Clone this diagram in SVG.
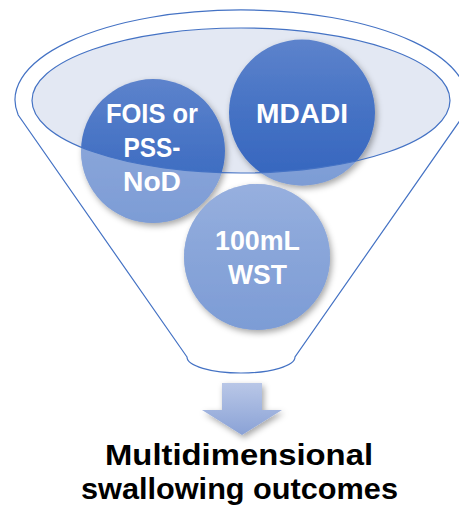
<svg xmlns="http://www.w3.org/2000/svg" width="459" height="512" viewBox="0 0 459 512">
  <defs>
    <style>
      .rim { fill: none; stroke: #4472C4; stroke-width: 1.2; }
      .ball { fill: url(#ballFill); filter: url(#soft); }
      .veil { fill: #FFFFFF; fill-opacity: 0.36; clip-path: url(#wall); }
      .lbl { font-family: "Liberation Sans", "Open Sans", sans-serif; font-weight: 700; font-size: 28px; fill: #FFFFFF; text-anchor: middle; }
      .out { font-family: "Liberation Sans", "Open Sans", sans-serif; font-weight: 700; font-size: 30px; fill: #000000; text-anchor: middle; }
    </style>
    <linearGradient id="ballFill" x1="0" y1="0" x2="0" y2="1">
      <stop offset="0" stop-color="#5D83CC"/>
      <stop offset="0.5" stop-color="#4572C4"/>
      <stop offset="1" stop-color="#3465BE"/>
    </linearGradient>
    <linearGradient id="arrowFill" x1="0" y1="0" x2="0" y2="1">
      <stop offset="0" stop-color="#B9C7E7"/>
      <stop offset="1" stop-color="#8AA2D6"/>
    </linearGradient>
    <filter id="soft" x="-20%" y="-20%" width="140%" height="140%">
      <feDropShadow dx="2" dy="3" stdDeviation="3" flood-color="#000000" flood-opacity="0.35"/>
    </filter>
    <!-- funnel wall: outer outline with the mouth cut out -->
    <clipPath id="wall">
      <path clip-rule="evenodd" d="M187 357 L18.2 115 A226 90 0 1 1 463.8 115 L295 357 A54 16 0 0 1 187 357 Z M32 100.5 A209 72.5 0 1 0 450 100.5 A209 72.5 0 1 0 32 100.5 Z"/>
    </clipPath>
  </defs>

  <!-- funnel body and mouth -->
  <g id="funnel">
    <path class="rim" style="fill:#FFFFFF" d="M187 357 L18.2 115 A226 90 0 1 1 463.8 115 L295 357 A54 16 0 0 1 187 357 Z"/>
    <ellipse cx="241" cy="100.5" rx="209" ry="72.5" fill="#E3E8F3"/>
  </g>

  <g id="node-fois">
    <circle class="ball" cx="153" cy="151" r="72"/>
    <circle class="veil" cx="153" cy="151" r="72"/>
  </g>
  <g id="node-mdadi">
    <circle class="ball" cx="302" cy="112.5" r="73"/>
    <circle class="veil" cx="302" cy="112.5" r="73"/>
  </g>
  <g id="node-wst">
    <circle class="ball" cx="257" cy="257" r="73"/>
    <circle class="veil" cx="257" cy="257" r="73"/>
  </g>

  <!-- mouth rim drawn over the balls -->
  <ellipse class="rim" cx="241" cy="100.5" rx="209" ry="72.5"/>

  <g id="labels">
    <text class="lbl" x="152" y="123" textLength="92" lengthAdjust="spacingAndGlyphs">FOIS or</text>
    <text class="lbl" x="152" y="157" textLength="57" lengthAdjust="spacingAndGlyphs">PSS-</text>
    <text class="lbl" x="152" y="191" textLength="58" lengthAdjust="spacingAndGlyphs">NoD</text>
    <text class="lbl" x="302" y="123" textLength="92" lengthAdjust="spacingAndGlyphs">MDADI</text>
    <text class="lbl" x="257.5" y="250" textLength="85" lengthAdjust="spacingAndGlyphs">100mL</text>
    <text class="lbl" x="257.5" y="284" textLength="59" lengthAdjust="spacingAndGlyphs">WST</text>
  </g>

  <g id="connectors">
    <path d="M222 383 H262 V410 H282 L242 435 L202 410 H222 Z" fill="url(#arrowFill)" filter="url(#soft)"/>
  </g>

  <g id="outcome">
    <text class="out" x="239" y="465" textLength="268" lengthAdjust="spacingAndGlyphs">Multidimensional</text>
    <text class="out" x="239.5" y="499" textLength="317" lengthAdjust="spacingAndGlyphs">swallowing outcomes</text>
  </g>
</svg>
